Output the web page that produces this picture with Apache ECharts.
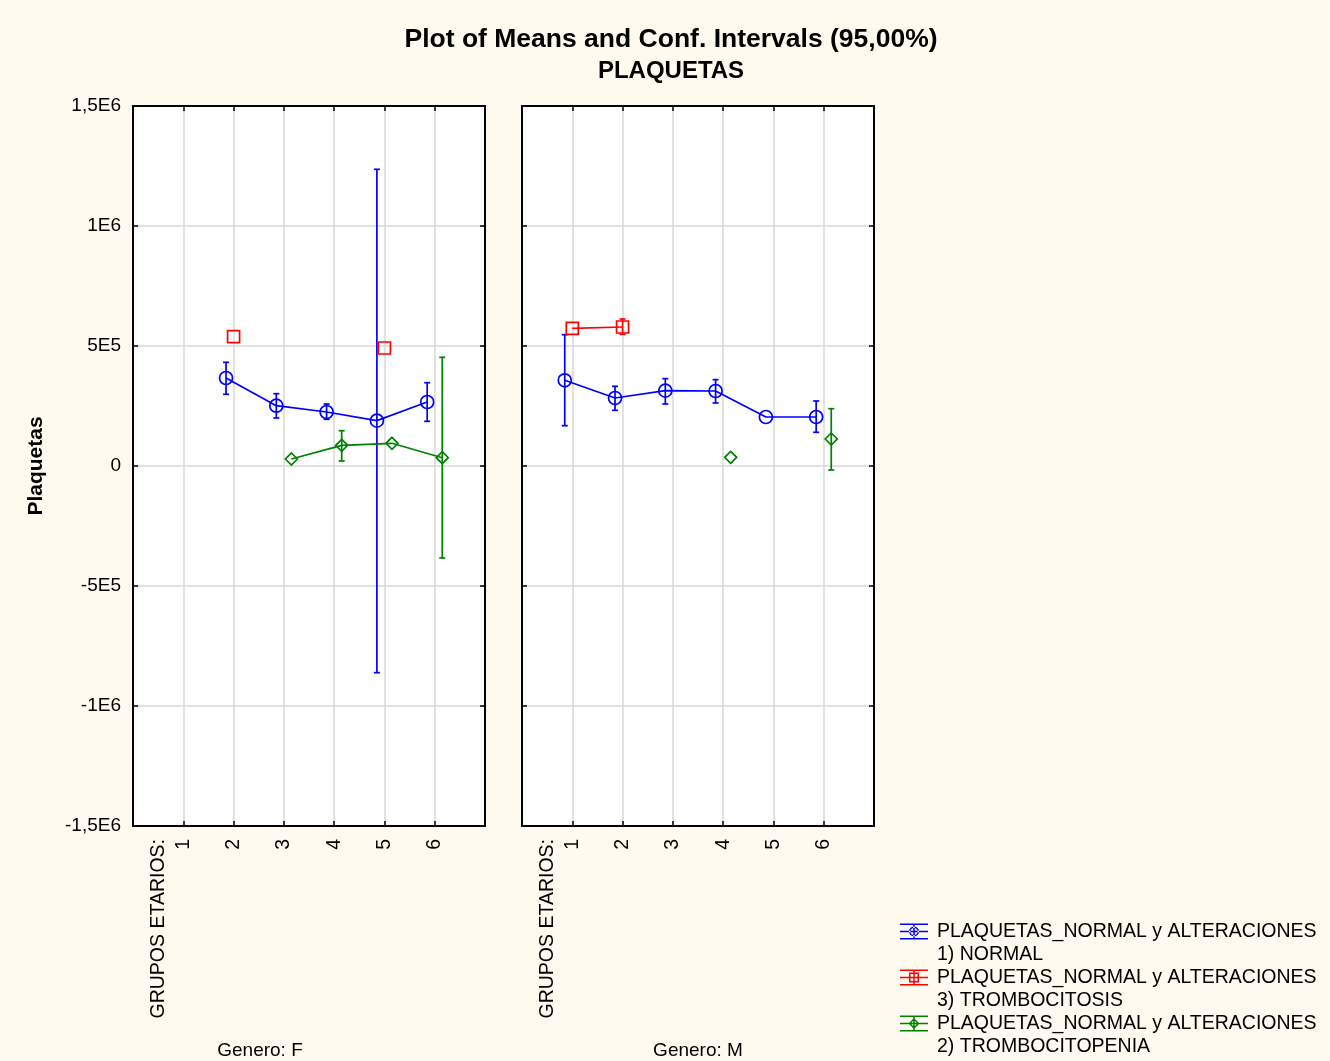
<!DOCTYPE html>
<html>
<head>
<meta charset="utf-8">
<script src="https://cdn.jsdelivr.net/npm/echarts@6/dist/echarts.min.js"></script>
<style>
html,body{margin:0;padding:0;background:#FFFAF0;}
#chart{width:1330px;height:1061px;}
</style>
</head>
<body>
<div id="chart"></div>
<script>
// ---- data ----
const groups = [1, 2, 3, 4, 5, 6];
const xTickLabels = ['1', '2', '3', '4', '5', '6'];
const xAxisTitle = 'GRUPOS ETARIOS:';
const yTickValues = [-1500000, -1000000, -500000, 0, 500000, 1000000, 1500000];
const yTickLabels = ['-1,5E6', '-1E6', '-5E5', '0', '5E5', '1E6', '1,5E6'];
const panelNames = ['Genero: F', 'Genero: M'];
const seriesNames = [
  'PLAQUETAS_NORMAL y ALTERACIONES\n1) NORMAL',
  'PLAQUETAS_NORMAL y ALTERACIONES\n3) TROMBOCITOSIS',
  'PLAQUETAS_NORMAL y ALTERACIONES\n2) TROMBOCITOPENIA'
];

// Genero F
const normalF_mean = [null, 366700, 251300, 225000, 188900, 266700];
const normalF_low  = [null, 298800, 200000, 194600, -861200, 186100];
const normalF_high = [null, 432000, 301300, 258300, 1236300, 347100];
const trombocitosisF_mean = [null, 538800, null, null, 491700, null];
const trombocitosisF_low  = [null, null, null, null, null, null];
const trombocitosisF_high = [null, null, null, null, null, null];
const trombocitopeniaF_mean = [null, null, 29200, 86100, 94600, 34600];
const trombocitopeniaF_low  = [null, null, null, 20800, null, -383300];
const trombocitopeniaF_high = [null, null, null, 147100, null, 452900];

// Genero M
const normalM_mean = [357000, 283400, 313900, 312500, 204200, 204200];
const normalM_low  = [168000, 232000, 258300, 262500, null, 140400];
const normalM_high = [547100, 332000, 363900, 359700, null, 270900];
const trombocitosisM_mean = [573700, 579200, null, null, null, null];
const trombocitosisM_low  = [null, 548800, null, null, null, null];
const trombocitosisM_high = [null, 612500, null, null, null, null];
const trombocitopeniaM_mean = [null, null, null, 36100, null, 112500];
const trombocitopeniaM_low  = [null, null, null, null, null, -16700];
const trombocitopeniaM_high = [null, null, null, null, null, 238800];

// ---- styling ----
const colors = ['#0000FF', '#FF0000', '#008000'];
const offsets = [-0.15, 0, 0.15];
const symbols = ['circle', 'rect', 'diamond'];
const symbolSizes = [13, 12, 12];
const FONT = 'Liberation Sans, Arial, sans-serif';

const panels = [
  {
    mean: [normalF_mean, trombocitosisF_mean, trombocitopeniaF_mean],
    low: [normalF_low, trombocitosisF_low, trombocitopeniaF_low],
    high: [normalF_high, trombocitosisF_high, trombocitopeniaF_high]
  },
  {
    mean: [normalM_mean, trombocitosisM_mean, trombocitopeniaM_mean],
    low: [normalM_low, trombocitosisM_low, trombocitopeniaM_low],
    high: [normalM_high, trombocitosisM_high, trombocitopeniaM_high]
  }
];

const gridRects = [
  {left: 133, top: 106, width: 352, height: 720},
  {left: 522, top: 106, width: 352, height: 720}
];

const grids = gridRects.map(r => Object.assign({
  show: true, backgroundColor: '#FFFFFF', borderColor: '#000', borderWidth: 2,
  containLabel: false, outerBoundsMode: 'none'
}, r));

const xAxes = [];
const yAxes = [];
gridRects.forEach((r, gi) => {
  xAxes.push({
    type: 'value', gridIndex: gi, min: 0, max: 7, interval: 1, position: 'bottom',
    name: panelNames[gi], nameLocation: 'middle', nameGap: 215,
    nameTextStyle: {fontFamily: FONT, fontSize: 19, color: '#000',
      padding: gi === 0 ? [0, 98, 0, 0] : 0},
    axisLine: {show: true, onZero: false, lineStyle: {color: '#000', width: 2}},
    axisTick: {show: true, inside: true, length: 5, lineStyle: {color: '#000', width: 1.5},
      customValues: groups},
    splitLine: {show: true, lineStyle: {color: '#D9D9D9', width: 1.5}},
    axisLabel: {
      show: true, rotate: 90, margin: 13, fontFamily: FONT, fontSize: 19.5, color: '#000',
      customValues: [0.5].concat(groups),
      formatter: v => v === 0.5 ? xAxisTitle : xTickLabels[groups.indexOf(v)]
    }
  });
  xAxes.push({
    type: 'value', gridIndex: gi, min: 0, max: 7, interval: 1, position: 'top',
    axisLine: {show: true, onZero: false, lineStyle: {color: '#000', width: 2}},
    axisTick: {show: true, inside: true, length: 5, lineStyle: {color: '#000', width: 1.5},
      customValues: groups},
    splitLine: {show: false},
    axisLabel: {show: false}
  });
  ['left', 'right'].forEach(pos => {
    const showLabels = gi === 0 && pos === 'left';
    yAxes.push({
      type: 'value', gridIndex: gi, position: pos,
      min: -1500000, max: 1500000, interval: 500000,
      name: showLabels ? 'Plaquetas' : '', nameLocation: 'middle', nameGap: 86,
      nameTextStyle: {fontFamily: FONT, fontSize: 21, fontWeight: 'bold', color: '#000'},
      axisLine: {show: true, onZero: false, lineStyle: {color: '#000', width: 2}},
      axisTick: {show: true, inside: true, length: 5, lineStyle: {color: '#000', width: 1.5}},
      splitLine: {show: pos === 'left', lineStyle: {color: '#D9D9D9', width: 1.5}},
      axisLabel: {
        show: showLabels, margin: 12, fontFamily: FONT, fontSize: 19, color: '#000',
        formatter: v => yTickLabels[yTickValues.indexOf(v)]
      }
    });
  });
});

function errorBarItem(params, api) {
  const x = api.value(0);
  const lo = api.value(1);
  const hi = api.value(2);
  const pHi = api.coord([x, hi]);
  const pLo = api.coord([x, lo]);
  const color = api.visual('color');
  const st = {stroke: color, lineWidth: 1.7};
  const cap = 3;
  return {
    type: 'group',
    children: [
      {type: 'line', shape: {x1: pHi[0], y1: pHi[1], x2: pLo[0], y2: pLo[1]}, style: st},
      {type: 'line', shape: {x1: pHi[0] - cap, y1: pHi[1], x2: pHi[0] + cap, y2: pHi[1]}, style: st},
      {type: 'line', shape: {x1: pLo[0] - cap, y1: pLo[1], x2: pLo[0] + cap, y2: pLo[1]}, style: st}
    ]
  };
}

const series = [];
panels.forEach((p, gi) => {
  const xIdx = gi * 2;
  const yIdx = gi * 2;
  for (let s = 0; s < 3; s++) {
    const errData = [];
    groups.forEach((g, i) => {
      if (p.low[s][i] != null && p.high[s][i] != null) {
        errData.push([g + offsets[s], p.low[s][i], p.high[s][i]]);
      }
    });
    series.push({
      type: 'custom', name: 'err' + gi + '_' + s,
      xAxisIndex: xIdx, yAxisIndex: yIdx,
      itemStyle: {color: colors[s]},
      renderItem: errorBarItem,
      encode: {x: 0, y: [1, 2]},
      data: errData, z: 3, silent: true
    });
    series.push({
      type: 'line', name: seriesNames[s],
      xAxisIndex: xIdx, yAxisIndex: yIdx,
      data: groups.map((g, i) => [g + offsets[s], p.mean[s][i] == null ? '-' : p.mean[s][i]]),
      symbol: symbols[s], symbolSize: symbolSizes[s], showSymbol: true,
      connectNulls: false,
      lineStyle: {color: colors[s], width: 1.7},
      itemStyle: {color: 'rgba(0,0,0,0)', borderColor: colors[s], borderWidth: 1.7},
      emphasis: {disabled: true},
      z: 4, animation: false
    });
  }
});

// legend icons (error-bar glyph with series marker), drawn in a 32x46 box
const iconBase = 'M0,0H0.01V0.01Z M32,46H31.99V45.99Z ' +
  'M0,3.5H28V5H0Z M0,10.75H28V12.25H0Z M0,18H28V19.5H0Z M13.25,3.5H14.75V19.5H13.25Z ';
const iconMarkers = [
  'M9,11.5A5,5 0 1,0 19,11.5A5,5 0 1,0 9,11.5Z M10.5,11.5A3.5,3.5 0 1,1 17.5,11.5A3.5,3.5 0 1,1 10.5,11.5Z',
  'M9,6.5H19V16.5H9Z M10.5,8V15H17.5V8Z',
  'M14,6L19.5,11.5L14,17L8.5,11.5Z M14,8.1L10.6,11.5L14,14.9L17.4,11.5Z'
];

const option = {
  backgroundColor: '#FFFAF0',
  animation: false,
  title: {
    text: 'Plot of Means and Conf. Intervals (95,00%)',
    subtext: 'PLAQUETAS',
    left: 671, top: 26, textAlign: 'center', padding: 0, itemGap: 6,
    textStyle: {fontFamily: FONT, fontSize: 26.5, fontWeight: 'bold', color: '#000'},
    subtextStyle: {fontFamily: FONT, fontSize: 24, fontWeight: 'bold', color: '#000'}
  },
  legend: {
    orient: 'vertical', left: 900, top: 920, padding: 0, itemGap: 0,
    itemWidth: 32, itemHeight: 46, selectedMode: false,
    textStyle: {fontFamily: FONT, fontSize: 19.5, lineHeight: 23, color: '#000'},
    data: seriesNames.map((n, s) => ({
      name: n, icon: 'path://' + iconBase + iconMarkers[s],
      itemStyle: {color: colors[s], borderWidth: 0, opacity: 1}
    }))
  },
  grid: grids,
  xAxis: xAxes,
  yAxis: yAxes,
  series: series
};

const chart = echarts.init(document.getElementById('chart'), null, {renderer: 'canvas'});
chart.setOption(option);
</script>
</body>
</html>
